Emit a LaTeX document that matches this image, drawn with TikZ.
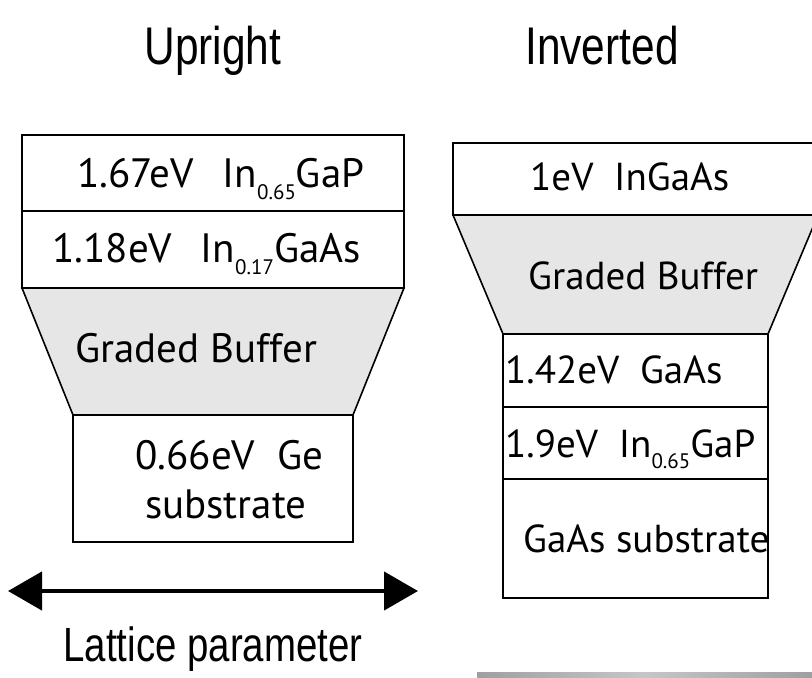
\documentclass[tikz,border=0pt]{standalone}
\usepackage{fontspec}
\usetikzlibrary{arrows.meta}
\setmainfont{Liberation Sans}
\newfontfamily\labfont{PT Sans}
\newfontfamily\ttlfont[FakeStretch=0.8]{Liberation Sans}
\newcommand\lsub[1]{\raisebox{-0.3em}{\fontsize{21}{21}\selectfont #1}}
\definecolor{bufgray}{HTML}{E6E6E6}
\tikzset{
  layerbox/.style={draw=black, line width=1.6pt, fill=white},
  bufbox/.style={draw=black, line width=1.6pt, fill=bufgray},
  lab/.style={anchor=base west, inner sep=0pt, font=\labfont\fontsize{41}{44}\selectfont},
  labi/.style={anchor=base west, inner sep=0pt, font=\labfont\fontsize{39}{42}\selectfont},
  ttl/.style={anchor=base, inner sep=0pt, font=\ttlfont\fontsize{53}{56}\selectfont},
  axislab/.style={anchor=base, inner sep=0pt, font=\ttlfont\fontsize{48}{52}\selectfont},
  latt/.style={line width=4.5pt, {Triangle[length=34pt,width=38pt]}-{Triangle[length=34pt,width=38pt]}}
}
\begin{document}
\begin{tikzpicture}[x=1pt,y=-1pt]
\useasboundingbox (0,0) rectangle (812,678);
\begin{scope}
\clip (0,0) rectangle (812,678);
% Upright
\draw[layerbox] (22,135) rectangle (404,211);
\draw[layerbox] (22,211) rectangle (404,288);
\draw[bufbox] (22,288) -- (404,288) -- (353,415) -- (73,415) -- cycle;
\draw[layerbox] (73,415) rectangle (353,542);
% Inverted
\draw[layerbox] (453,143) rectangle (818,215);
\draw[bufbox] (453,215) -- (818,215) -- (768,334) -- (503,334) -- cycle;
\draw[layerbox] (503,334) rectangle (768,407);
\draw[layerbox] (503,407) rectangle (768,479);
\draw[layerbox] (503,479) rectangle (768,598);
% bottom bar
\shade[left color=gray!75, right color=gray!75, middle color=gray!45] (477,672) rectangle (812,678);
\end{scope}
% titles
\node[ttl] (tu) at (213,64) {Upright};
\node[ttl] (ti) at (602,64) {Inverted};
% upright labels
\node[lab] (u1) at (77,187) {1.67eV\ \ \,In\lsub{0.65}GaP};
\node[lab] (u2) at (52,262) {1.18eV\ \ \,In\lsub{0.17}GaAs};
\node[lab] (u3) at (75,362) {Graded Buffer};
\node[lab] (u4) at (135,469) {0.66eV\ \ Ge};
\node[lab] (u5) at (145,518) {substrate};
% inverted labels
\node[labi] (i1) at (530,190) {1eV\ \ InGaAs};
\node[labi] (i2) at (528,289) {Graded Buffer};
\node[labi] (i3) at (505,383) {1.42eV\ \ GaAs};
\node[labi] (i4) at (505,457) {1.9eV\ \ In\lsub{0.65}GaP};
\node[labi] (i5) at (523,552) {GaAs substrate};
% lattice arrow
\coordinate (al) at (8,591);
\coordinate (ar) at (418,591);
\draw[latt] (al) -- (ar);
\node[axislab] (lp) at (213,661) {Lattice parameter};
\end{tikzpicture}
\end{document}
